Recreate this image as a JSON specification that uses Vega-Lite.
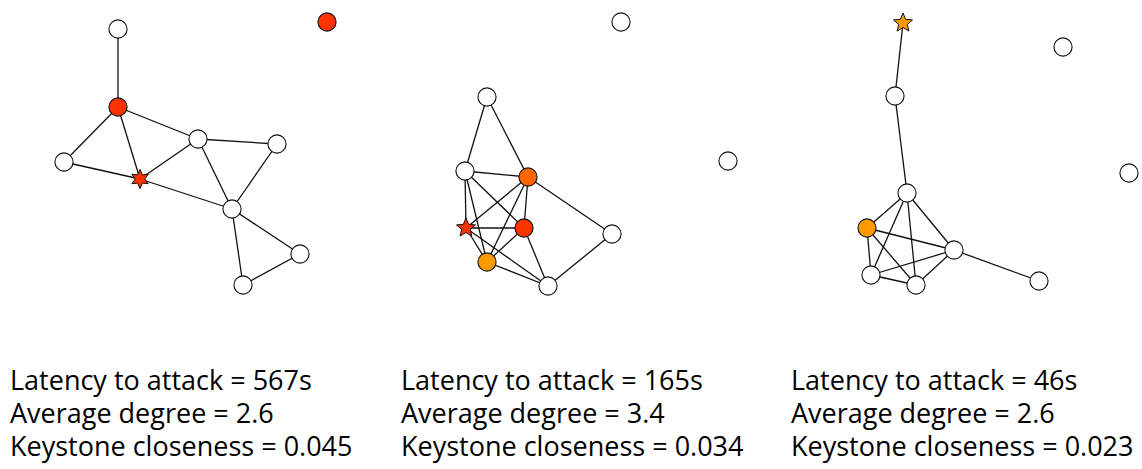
{
  "$schema": "https://vega.github.io/schema/vega-lite/v6.json",
  "width": 1142,
  "height": 469,
  "padding": 0,
  "autosize": {"type": "fit", "contains": "padding"},
  "background": "white",
  "config": {"view": {"stroke": null}},
  "datasets": {
    "nodes": [
      {"id": "A", "x": 118, "y": 29, "role": "plain", "kind": "circle"},
      {"id": "B", "x": 118, "y": 107, "role": "red", "kind": "circle"},
      {"id": "C", "x": 327, "y": 22, "role": "red", "kind": "circle"},
      {"id": "D", "x": 64, "y": 162, "role": "plain", "kind": "circle"},
      {"id": "E", "x": 140, "y": 179, "role": "red", "kind": "star6"},
      {"id": "F", "x": 198, "y": 139, "role": "plain", "kind": "circle"},
      {"id": "G", "x": 277, "y": 144, "role": "plain", "kind": "circle"},
      {"id": "H", "x": 232, "y": 209, "role": "plain", "kind": "circle"},
      {"id": "I", "x": 300, "y": 254, "role": "plain", "kind": "circle"},
      {"id": "J", "x": 243, "y": 285, "role": "plain", "kind": "circle"},
      {"id": "P1", "x": 621, "y": 22, "role": "plain", "kind": "circle"},
      {"id": "P2", "x": 728, "y": 161, "role": "plain", "kind": "circle"},
      {"id": "Q", "x": 487, "y": 97, "role": "plain", "kind": "circle"},
      {"id": "R", "x": 465, "y": 171, "role": "plain", "kind": "circle"},
      {"id": "S", "x": 528, "y": 177, "role": "orange", "kind": "circle"},
      {"id": "T", "x": 466, "y": 228, "role": "red", "kind": "star5"},
      {"id": "U", "x": 524, "y": 228, "role": "red", "kind": "circle"},
      {"id": "V", "x": 487, "y": 262, "role": "amber", "kind": "circle"},
      {"id": "W", "x": 548, "y": 286, "role": "plain", "kind": "circle"},
      {"id": "X", "x": 612, "y": 234, "role": "plain", "kind": "circle"},
      {"id": "s3", "x": 903, "y": 23, "role": "amber", "kind": "star5"},
      {"id": "a3", "x": 895, "y": 96, "role": "plain", "kind": "circle"},
      {"id": "i1", "x": 1063, "y": 47, "role": "plain", "kind": "circle"},
      {"id": "i2", "x": 1129, "y": 173, "role": "plain", "kind": "circle"},
      {"id": "b3", "x": 907, "y": 193, "role": "plain", "kind": "circle"},
      {"id": "c3", "x": 867, "y": 228, "role": "amber", "kind": "circle"},
      {"id": "d3", "x": 954, "y": 250, "role": "plain", "kind": "circle"},
      {"id": "e3", "x": 871, "y": 275, "role": "plain", "kind": "circle"},
      {"id": "f3", "x": 916, "y": 285, "role": "plain", "kind": "circle"},
      {"id": "g3", "x": 1039, "y": 281, "role": "plain", "kind": "circle"}
    ],
    "edges": [
      {"sx": 118, "sy": 29, "tx": 118, "ty": 107},
      {"sx": 118, "sy": 107, "tx": 64, "ty": 162},
      {"sx": 118, "sy": 107, "tx": 140, "ty": 179},
      {"sx": 118, "sy": 107, "tx": 198, "ty": 139},
      {"sx": 64, "sy": 162, "tx": 140, "ty": 179},
      {"sx": 140, "sy": 179, "tx": 198, "ty": 139},
      {"sx": 140, "sy": 179, "tx": 232, "ty": 209},
      {"sx": 198, "sy": 139, "tx": 277, "ty": 144},
      {"sx": 198, "sy": 139, "tx": 232, "ty": 209},
      {"sx": 277, "sy": 144, "tx": 232, "ty": 209},
      {"sx": 232, "sy": 209, "tx": 300, "ty": 254},
      {"sx": 232, "sy": 209, "tx": 243, "ty": 285},
      {"sx": 300, "sy": 254, "tx": 243, "ty": 285},
      {"sx": 487, "sy": 97, "tx": 465, "ty": 171},
      {"sx": 487, "sy": 97, "tx": 528, "ty": 177},
      {"sx": 465, "sy": 171, "tx": 528, "ty": 177},
      {"sx": 465, "sy": 171, "tx": 466, "ty": 228},
      {"sx": 465, "sy": 171, "tx": 524, "ty": 228},
      {"sx": 465, "sy": 171, "tx": 487, "ty": 262},
      {"sx": 528, "sy": 177, "tx": 466, "ty": 228},
      {"sx": 528, "sy": 177, "tx": 524, "ty": 228},
      {"sx": 528, "sy": 177, "tx": 487, "ty": 262},
      {"sx": 528, "sy": 177, "tx": 612, "ty": 234},
      {"sx": 466, "sy": 228, "tx": 524, "ty": 228},
      {"sx": 466, "sy": 228, "tx": 487, "ty": 262},
      {"sx": 466, "sy": 228, "tx": 548, "ty": 286},
      {"sx": 524, "sy": 228, "tx": 487, "ty": 262},
      {"sx": 524, "sy": 228, "tx": 548, "ty": 286},
      {"sx": 487, "sy": 262, "tx": 548, "ty": 286},
      {"sx": 548, "sy": 286, "tx": 612, "ty": 234},
      {"sx": 903, "sy": 23, "tx": 895, "ty": 96},
      {"sx": 895, "sy": 96, "tx": 907, "ty": 193},
      {"sx": 907, "sy": 193, "tx": 867, "ty": 228},
      {"sx": 907, "sy": 193, "tx": 871, "ty": 275},
      {"sx": 907, "sy": 193, "tx": 916, "ty": 285},
      {"sx": 907, "sy": 193, "tx": 954, "ty": 250},
      {"sx": 867, "sy": 228, "tx": 954, "ty": 250},
      {"sx": 867, "sy": 228, "tx": 871, "ty": 275},
      {"sx": 867, "sy": 228, "tx": 916, "ty": 285},
      {"sx": 954, "sy": 250, "tx": 871, "ty": 275},
      {"sx": 954, "sy": 250, "tx": 916, "ty": 285},
      {"sx": 871, "sy": 275, "tx": 916, "ty": 285},
      {"sx": 954, "sy": 250, "tx": 1039, "ty": 281}
    ],
    "labels": [
      {"x": 10, "y": 390, "label": "Latency to attack = 567s"},
      {"x": 10, "y": 423, "label": "Average degree = 2.6"},
      {"x": 10, "y": 456, "label": "Keystone closeness = 0.045"},
      {"x": 401, "y": 390, "label": "Latency to attack = 165s"},
      {"x": 401, "y": 423, "label": "Average degree = 3.4"},
      {"x": 401, "y": 456, "label": "Keystone closeness = 0.034"},
      {"x": 791, "y": 390, "label": "Latency to attack = 46s"},
      {"x": 791, "y": 423, "label": "Average degree = 2.6"},
      {"x": 791, "y": 456, "label": "Keystone closeness = 0.023"}
    ]
  },
  "encoding": {
    "x": {"type": "quantitative", "scale": {"domain": [0, 1142], "nice": false, "zero": false}, "axis": null},
    "y": {"type": "quantitative", "scale": {"domain": [0, 469], "nice": false, "zero": false, "reverse": true}, "axis": null}
  },
  "layer": [
    {
      "data": {"name": "edges"},
      "mark": {"type": "rule", "color": "#111111", "strokeWidth": 1.3},
      "encoding": {
        "x": {"field": "sx", "type": "quantitative"},
        "y": {"field": "sy", "type": "quantitative"},
        "x2": {"field": "tx"},
        "y2": {"field": "ty"}
      }
    },
    {
      "data": {"name": "nodes"},
      "transform": [{"filter": "datum.kind === 'circle'"}],
      "mark": {"type": "point", "shape": "circle", "size": 330, "filled": true, "stroke": "#111111", "strokeWidth": 1.1, "opacity": 1},
      "encoding": {
        "x": {"field": "x", "type": "quantitative"},
        "y": {"field": "y", "type": "quantitative"},
        "fill": {"field": "role", "type": "nominal", "scale": {"domain": ["plain", "red", "orange", "amber"], "range": ["#ffffff", "#ff3300", "#ff6600", "#ff9900"]}, "legend": null}
      }
    },
    {
      "data": {"name": "nodes"},
      "transform": [{"filter": "datum.kind === 'star5'"}],
      "mark": {"type": "point", "shape": "M0,-1L0.265,-0.364L0.951,-0.309L0.428,0.139L0.588,0.809L0,0.45L-0.588,0.809L-0.428,0.139L-0.951,-0.309L-0.265,-0.364Z", "size": 400, "filled": true, "stroke": "#111111", "strokeWidth": 1, "opacity": 1},
      "encoding": {
        "x": {"field": "x", "type": "quantitative"},
        "y": {"field": "y", "type": "quantitative"},
        "fill": {"field": "role", "type": "nominal", "legend": null}
      }
    },
    {
      "data": {"name": "nodes"},
      "transform": [{"filter": "datum.kind === 'star6'"}],
      "mark": {"type": "point", "shape": "M0,-1L0.25,-0.433L0.866,-0.5L0.5,0L0.866,0.5L0.25,0.433L0,1L-0.25,0.433L-0.866,0.5L-0.5,0L-0.866,-0.5L-0.25,-0.433Z", "size": 360, "filled": true, "stroke": "#111111", "strokeWidth": 1, "opacity": 1},
      "encoding": {
        "x": {"field": "x", "type": "quantitative"},
        "y": {"field": "y", "type": "quantitative"},
        "fill": {"field": "role", "type": "nominal", "legend": null}
      }
    },
    {
      "data": {"name": "labels"},
      "mark": {"type": "text", "align": "left", "baseline": "alphabetic", "font": "Open Sans", "fontSize": 27, "color": "#000000"},
      "encoding": {
        "x": {"field": "x", "type": "quantitative"},
        "y": {"field": "y", "type": "quantitative"},
        "text": {"field": "label"}
      }
    }
  ]
}
